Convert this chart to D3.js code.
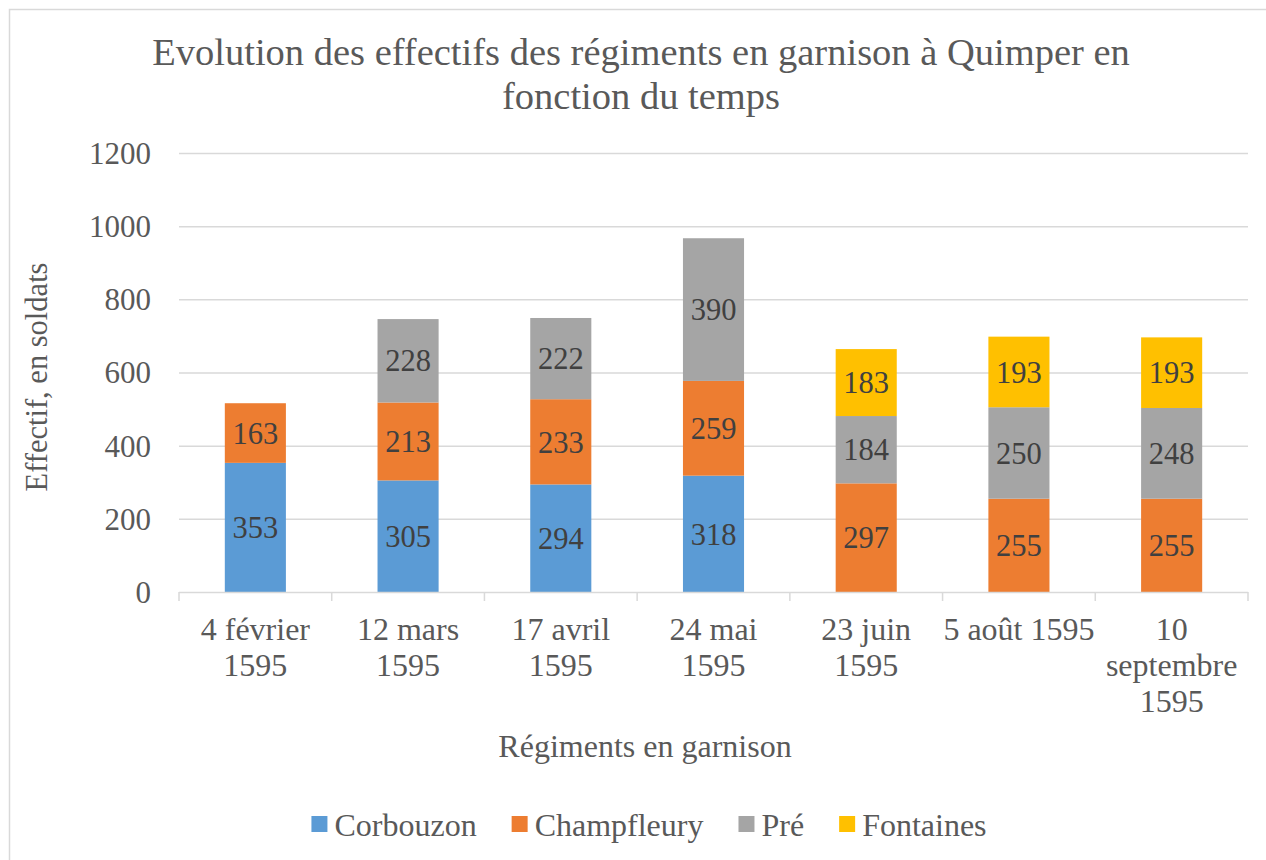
<!DOCTYPE html>
<html>
<head>
<meta charset="utf-8">
<script src="https://cdn.jsdelivr.net/npm/d3@7"></script>
<style>
  html, body { margin: 0; padding: 0; background: #fff; }
  svg { display: block; }
</style>
</head>
<body>
<svg id="chart" width="1266" height="860"></svg>
<script>
// Dates of the garrison counts (tick labels split into lines)
const categories = ["4 février 1595", "12 mars 1595", "17 avril 1595", "24 mai 1595",
                    "23 juin 1595", "5 août 1595", "10 septembre 1595"];
const tickLines = [["4 février", "1595"], ["12 mars", "1595"], ["17 avril", "1595"],
                   ["24 mai", "1595"], ["23 juin", "1595"], ["5 août 1595"],
                   ["10", "septembre", "1595"]];

// Soldiers per regiment
const seriesNames = ["Corbouzon", "Champfleury", "Pré", "Fontaines"];
const corbouzon   = [353, 305, 294, 318, 0, 0, 0];
const champfleury = [163, 213, 233, 259, 297, 255, 255];
const pre         = [0, 228, 222, 390, 184, 250, 248];
const fontaines   = [0, 0, 0, 0, 183, 193, 193];
const seriesColors = ["#5B9BD5", "#ED7D31", "#A5A5A5", "#FFC000"];

const yTicks = [0, 200, 400, 600, 800, 1000, 1200];

const title = ["Evolution des effectifs des régiments en garnison à Quimper en",
               "fonction du temps"];
const xTitle = "Régiments en garnison";
const yTitle = "Effectif, en soldats";

const FONT = "'Liberation Serif', 'Times New Roman', Times, Tinos, 'DejaVu Serif', serif";
const svg = d3.select("#chart").attr("font-family", FONT).style("font-family", FONT);
const textColor = "#595959";

// frame
svg.append("rect")
  .attr("x", 9.5).attr("y", 9.5)
  .attr("width", 1300).attr("height", 900)
  .attr("fill", "#fff").attr("stroke", "#d9d9d9").attr("stroke-width", 1.5);

const plot = { left: 179, right: 1248, top: 153, bottom: 592 };

const table = categories.map((c, i) => ({
  cat: c,
  Corbouzon: corbouzon[i],
  Champfleury: champfleury[i],
  "Pré": pre[i],
  Fontaines: fontaines[i]
}));
const stacked = d3.stack().keys(seriesNames)(table);

const x = d3.scaleBand().domain(categories)
  .range([plot.left, plot.right]).paddingInner(0.6).paddingOuter(0.3);
const y = d3.scaleLinear().domain([0, 1200]).range([plot.bottom, plot.top]);
const step = x.step();

// gridlines
svg.append("g").selectAll("line").data(yTicks.filter(t => t > 0)).join("line")
  .attr("x1", plot.left).attr("x2", plot.right)
  .attr("y1", d => y(d) + 0.5).attr("y2", d => y(d) + 0.5)
  .attr("stroke", "#d9d9d9").attr("stroke-width", 1.5);

// y tick labels
svg.append("g").selectAll("text").data(yTicks).join("text")
  .attr("x", 151).attr("y", d => y(d))
  .attr("dy", "0.35em")
  .attr("text-anchor", "end")
  .attr("font-size", 31).attr("fill", textColor)
  .text(d => d);

// bars
const layer = svg.append("g").selectAll("g").data(stacked).join("g")
  .attr("fill", (d, i) => seriesColors[i]);
layer.selectAll("rect").data(d => d).join("rect")
  .attr("x", d => x(d.data.cat))
  .attr("width", x.bandwidth())
  .attr("y", d => y(d[1]))
  .attr("height", d => y(d[0]) - y(d[1]));

// value labels
svg.append("g").selectAll("g").data(stacked).join("g")
  .selectAll("text").data(d => d.filter(s => s[1] - s[0] > 0).map(s => ({ s, key: d.key })))
  .join("text")
  .attr("x", d => x(d.s.data.cat) + x.bandwidth() / 2)
  .attr("y", d => (y(d.s[0]) + y(d.s[1])) / 2)
  .attr("dy", "0.35em")
  .attr("text-anchor", "middle")
  .attr("font-size", 30.5).attr("fill", "#404040")
  .text(d => d.s[1] - d.s[0]);

// x axis line and boundary ticks
const axisG = svg.append("g");
axisG.append("line")
  .attr("x1", plot.left).attr("x2", plot.right)
  .attr("y1", plot.bottom + 0.5).attr("y2", plot.bottom + 0.5)
  .attr("stroke", "#d9d9d9").attr("stroke-width", 1.5);
axisG.selectAll("line.tick").data(d3.range(categories.length + 1)).join("line")
  .attr("class", "tick")
  .attr("x1", i => plot.left + i * step).attr("x2", i => plot.left + i * step)
  .attr("y1", plot.bottom).attr("y2", plot.bottom + 9)
  .attr("stroke", "#d9d9d9").attr("stroke-width", 1.5);

// x tick labels
const xl = svg.append("g").selectAll("text").data(categories).join("text")
  .attr("x", d => x(d) + x.bandwidth() / 2)
  .attr("y", 640)
  .attr("text-anchor", "middle")
  .attr("font-size", 32).attr("fill", textColor);
xl.selectAll("tspan").data((d, i) => tickLines[i]).join("tspan")
  .attr("x", function () { return this.parentNode.getAttribute("x"); })
  .attr("dy", (d, i) => i === 0 ? 0 : 36)
  .text(d => d);

// title
svg.append("text")
  .attr("x", 641).attr("y", 65)
  .attr("text-anchor", "middle")
  .attr("font-size", 38.5).attr("fill", textColor)
  .selectAll("tspan").data(title).join("tspan")
  .attr("x", 641).attr("dy", (d, i) => i === 0 ? 0 : 44)
  .text(d => d);

// axis titles
svg.append("text")
  .attr("x", 645).attr("y", 757)
  .attr("text-anchor", "middle")
  .attr("font-size", 32).attr("fill", textColor)
  .text(xTitle);
svg.append("text")
  .attr("transform", "translate(47,377) rotate(-90)")
  .attr("text-anchor", "middle")
  .attr("font-size", 30.5).attr("fill", textColor)
  .text(yTitle);

// legend, laid out left to right and centred under the plot
const legendY = 816, swatch = 16, swatchGap = 7, itemGap = 35, legendCenter = 649;
const leg = svg.append("g");
const items = leg.selectAll("g").data(seriesNames).join("g");
items.append("rect").attr("width", swatch).attr("height", swatch)
  .attr("fill", (d, i) => seriesColors[i]);
items.append("text").attr("x", swatch + swatchGap).attr("y", 19.5)
  .attr("font-size", 32).attr("fill", textColor)
  .text(d => d);
const widths = [];
items.each(function () { widths.push(swatch + swatchGap + d3.select(this).select("text").node().getComputedTextLength()); });
const total = d3.sum(widths) + itemGap * (widths.length - 1);
let cx = legendCenter - total / 2;
items.attr("transform", (d, i) => {
  const t = `translate(${cx},${legendY})`;
  cx += widths[i] + itemGap;
  return t;
});
</script>
</body>
</html>
